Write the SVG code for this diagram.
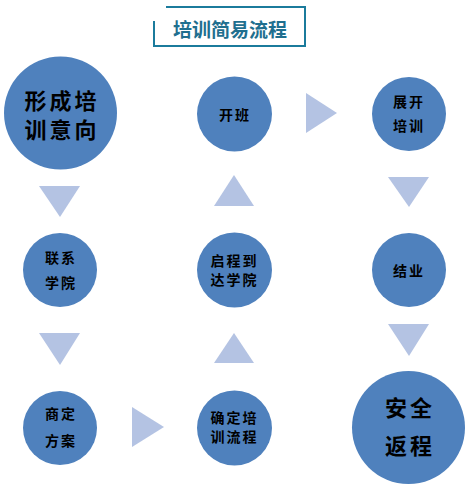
<svg xmlns="http://www.w3.org/2000/svg" width="470" height="486" viewBox="0 0 470 486">
<style>
.bg{fill:#ffffff}
.node circle{fill:#4f81bd}
.node text{font-family:"Noto Sans CJK SC","Noto Sans CJK TC",sans-serif;font-weight:bold;fill:#000;text-anchor:middle;dominant-baseline:central}
.s{font-size:14px;letter-spacing:2px}
.l{font-size:22px;letter-spacing:3px}
.arrow{fill:#b4c3e3}
.frame{fill:none;stroke:#1b7b9c;stroke-width:2}
.title{font-family:"Noto Sans CJK SC",sans-serif;font-weight:bold;font-size:19px;fill:#1f6f8f;text-anchor:middle;dominant-baseline:central}
</style>
<rect class="bg" width="470" height="486"/>
<g id="title">
<polyline class="frame" points="166,7 305,7 305,46 154,46 154,21"/>
<text class="title" x="230" y="28">培训简易流程</text>
</g>
<g id="connectors">
<polygon class="arrow" points="39,186 80,186 60,217"/>
<polygon class="arrow" points="39,333 80,333 60,365"/>
<polygon class="arrow" points="132,407 132,447 164,427"/>
<polygon class="arrow" points="214,363 254,363 234,333"/>
<polygon class="arrow" points="214,206 254,206 234,175"/>
<polygon class="arrow" points="306,93 306,133 337,113"/>
<polygon class="arrow" points="388,177 429,177 409,207"/>
<polygon class="arrow" points="388,324 429,324 409,356"/>
</g>
<g id="n1" class="node"><circle cx="60.5" cy="113" r="56.5"/><text class="l" x="62" y="99">形成培</text><text class="l" x="62" y="128">训意向</text></g>
<g id="n2" class="node"><circle cx="60" cy="270" r="37"/><text class="s" x="61" y="257">联系</text><text class="s" x="61" y="282">学院</text></g>
<g id="n3" class="node"><circle cx="60" cy="428" r="37"/><text class="s" x="61" y="413">商定</text><text class="s" x="61" y="440">方案</text></g>
<g id="n4" class="node"><circle cx="234.5" cy="428" r="37.5"/><text class="s" x="234.5" y="417">确定培</text><text class="s" x="234.5" y="436">训流程</text></g>
<g id="n5" class="node"><circle cx="234.5" cy="270" r="37.5"/><text class="s" x="234.5" y="260">启程到</text><text class="s" x="234.5" y="279">达学院</text></g>
<g id="n6" class="node"><circle cx="234.5" cy="114" r="37.5"/><text class="s" x="235" y="114">开班</text></g>
<g id="n7" class="node"><circle cx="409" cy="114" r="37"/><text class="s" x="409" y="101">展开</text><text class="s" x="409" y="125">培训</text></g>
<g id="n8" class="node"><circle cx="409" cy="270" r="37"/><text class="s" x="409" y="270">结业</text></g>
<g id="n9" class="node"><circle cx="408.5" cy="427.5" r="56.5"/><text class="l" x="410" y="406">安全</text><text class="l" x="410" y="444">返程</text></g>
</svg>
